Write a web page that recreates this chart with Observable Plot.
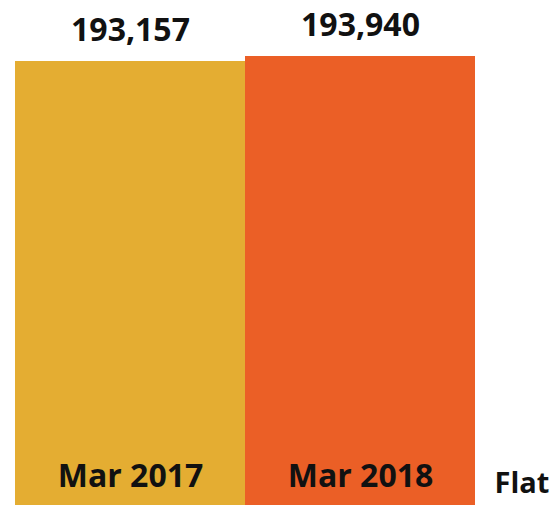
<!DOCTYPE html>
<html>
<head>
<meta charset="utf-8">
<script src="https://cdn.jsdelivr.net/npm/d3@7"></script>
<script src="https://cdn.jsdelivr.net/npm/@observablehq/plot@0.6"></script>
<style>
  html, body { margin: 0; padding: 0; background: #fff; overflow: hidden; }
</style>
</head>
<body>
<div id="chart"></div>
<script>
const periods = ["Mar 2017", "Mar 2018"];
const values = [193157, 193940];
const colors = ["#E4AD32", "#EB5F26"];
const note = "Flat";

const data = periods.map((p, i) => ({period: p, value: values[i], color: colors[i]}));
const fmt = d3.format(",");

const chart = Plot.plot({
  width: 552,
  height: 505,
  marginTop: 0,
  marginBottom: 0,
  marginLeft: 14,
  marginRight: 77,
  style: {background: "#fff", overflow: "hidden", fontFamily: "'Open Sans', sans-serif"},
  x: {domain: periods, padding: 0, axis: null},
  y: {domain: [0, 193940], range: [1294, 56], axis: null},
  marks: [
    Plot.barY(data, {x: "period", y: "value", fill: "color"}),
    Plot.text(data, {x: "period", y: "value", text: d => fmt(d.value), dy: -31,
      lineAnchor: "middle", fontSize: 32, fontWeight: "bold", fill: "#111"}),
    Plot.text(data, {x: "period", text: "period", frameAnchor: "bottom", lineAnchor: "middle",
      dy: -29, fontSize: 32, fontWeight: "bold", fill: "#111"}),
    Plot.text([note], {text: d => d, frameAnchor: "bottom-right", textAnchor: "start",
      lineAnchor: "middle", dx: 19, dy: -22, fontSize: 29, fontWeight: "bold", fill: "#111"})
  ]
});
document.getElementById("chart").append(chart);
</script>
</body>
</html>
